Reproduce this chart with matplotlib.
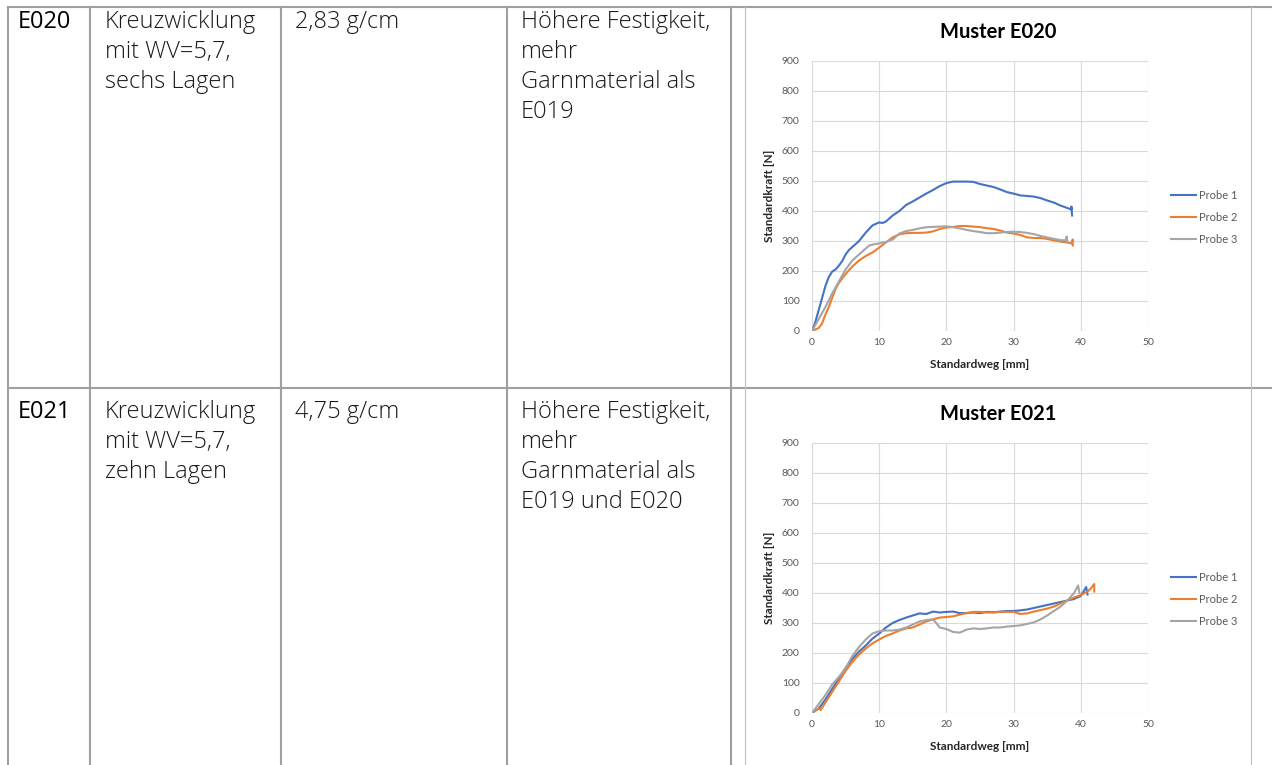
import matplotlib
matplotlib.use("Agg")
import matplotlib.pyplot as plt
from matplotlib.lines import Line2D

W, H = 1272, 765

# ---------------- table content ----------------
row_ids = ["E020", "E021"]
row_desc = [["Kreuzwicklung", "mit WV=5,7,", "sechs Lagen"],
            ["Kreuzwicklung", "mit WV=5,7,", "zehn Lagen"]]
row_weight = ["2,83 g/cm", "4,75 g/cm"]
row_note = [["Höhere Festigkeit,", "mehr", "Garnmaterial als", "E019"],
            ["Höhere Festigkeit,", "mehr", "Garnmaterial als", "E019 und E020"]]
chart_titles = ["Muster E020", "Muster E021"]
series_names = ["Probe 1", "Probe 2", "Probe 3"]

# ---------------- chart data: E020 ----------------
e020_p1_x = [0, 0.5, 1, 1.5, 2, 2.5, 3, 3.5, 4, 4.5, 5, 5.5, 6, 7, 8, 9, 10, 10.5, 11, 12, 13, 14, 15, 16,
             17, 18, 19, 20, 21, 22, 23, 24, 25, 26, 27, 28, 29, 30, 31, 32, 33, 34, 35, 36, 37, 38, 38.6, 38.6, 38.7]
e020_p1_y = [0, 30, 70, 110, 150, 180, 198, 205, 218, 233, 255, 270, 280, 300, 328, 352, 362, 360, 365, 385, 400,
             420, 432, 445, 458, 470, 483, 493, 498, 498, 498, 497, 490, 485, 480, 472, 463, 458, 452, 450, 448,
             443, 435, 428, 418, 410, 405, 415, 385]
e020_p2_x = [0, 0.5, 1, 1.5, 2, 2.5, 3, 3.5, 4, 5, 6, 7, 8, 9, 10, 11, 12, 13, 14, 15, 16, 17, 18, 19, 20, 21,
             22, 23, 24, 25, 26, 27, 28, 29, 30, 31, 32, 33, 34, 35, 36, 37, 38, 38.6, 38.8, 38.8]
e020_p2_y = [0, 5, 10, 25, 55, 80, 110, 140, 160, 190, 215, 235, 250, 262, 278, 295, 312, 322, 326, 327, 327,
             328, 332, 340, 345, 347, 350, 350, 348, 346, 343, 340, 335, 328, 325, 320, 312, 310, 310, 307, 302,
             298, 295, 292, 305, 285]
e020_p3_x = [0, 1, 2, 3, 4, 5, 6, 7, 8, 8.5, 9, 10, 11, 12, 13, 14, 15, 16, 17, 18, 19, 20, 21, 22, 23, 24, 25,
             26, 27, 28, 29, 30, 31, 32, 33, 34, 35, 36, 37, 37.8, 37.9, 38]
e020_p3_y = [0, 40, 80, 125, 165, 205, 235, 255, 275, 285, 288, 292, 297, 305, 325, 333, 337, 342, 346, 347, 348,
             349, 346, 342, 337, 333, 330, 326, 326, 328, 330, 331, 330, 327, 323, 317, 312, 307, 303, 302, 315, 295]

# ---------------- chart data: E021 ----------------
e021_p1_x = [0, 1, 2, 3, 4, 5, 6, 7, 8, 9, 10, 11, 12, 13, 14, 15, 16, 17, 18, 19, 20, 21, 22, 23, 24, 25, 26,
             27, 28, 29, 30, 31, 32, 33, 34, 35, 36, 37, 38, 39, 40, 40.8, 41]
e021_p1_y = [0, 15, 45, 80, 115, 150, 180, 205, 225, 248, 265, 285, 300, 310, 318, 325, 332, 330, 338, 335, 337,
             338, 333, 333, 335, 333, 337, 336, 338, 340, 340, 342, 345, 350, 355, 360, 365, 370, 375, 380, 390,
             420, 395]
e021_p2_x = [0, 0.5, 1, 1.3, 2, 3, 4, 5, 6, 7, 8, 9, 10, 11, 12, 13, 14, 15, 16, 17, 18, 19, 20, 21, 22, 23, 24,
             25, 26, 27, 28, 29, 30, 31, 32, 33, 34, 35, 36, 37, 38, 39, 40, 41, 41.5, 42, 42]
e021_p2_y = [0, 8, 15, 10, 35, 70, 105, 140, 170, 195, 215, 232, 245, 257, 265, 275, 282, 285, 295, 305, 312,
             318, 320, 322, 328, 333, 337, 337, 335, 335, 337, 337, 337, 330, 332, 338, 343, 348, 355, 365, 375,
             385, 393, 405, 415, 430, 405]
e021_p3_x = [0, 1, 2, 3, 4, 5, 6, 7, 8, 9, 10, 11, 12, 13, 14, 15, 16, 17, 18, 18.5, 19, 20, 21, 22, 23, 24, 25,
             26, 27, 28, 29, 30, 31, 32, 33, 34, 35, 36, 37, 38, 39, 39.6, 39.8]
e021_p3_y = [0, 30, 60, 95, 120, 150, 190, 220, 245, 265, 273, 275, 275, 278, 285, 295, 305, 310, 312, 300, 285,
             280, 270, 268, 278, 282, 280, 282, 285, 285, 288, 290, 292, 297, 302, 312, 325, 340, 355, 375, 400,
             425, 400]

charts = [
    [(e020_p1_x, e020_p1_y), (e020_p2_x, e020_p2_y), (e020_p3_x, e020_p3_y)],
    [(e021_p1_x, e021_p1_y), (e021_p2_x, e021_p2_y), (e021_p3_x, e021_p3_y)],
]
colors = ["#4472C4", "#ED7D31", "#A5A5A5"]

fig = plt.figure(figsize=(W / 100, H / 100), dpi=100)


def fx(x):
    return x / W


def fy(y):
    return 1 - y / H


# ---------------- table grid ----------------
tcol = "#A0A0A0"
for x in [8, 90, 281, 507, 731]:
    fig.add_artist(Line2D([fx(x), fx(x)], [fy(7), fy(H)], color=tcol, lw=1.5))
for y in [7, 388]:
    fig.add_artist(Line2D([fx(8), fx(W)], [fy(y), fy(y)], color=tcol, lw=1.5))
# chart frames
for x in [745, 1251]:
    fig.add_artist(Line2D([fx(x), fx(x)], [fy(7), fy(H)], color="#C0C0C0", lw=0.8))

# ---------------- table text ----------------
row_tops = [22, 412]
lh = 30
txt_col = "#1A1A1A"
for r in range(2):
    y0 = row_tops[r]
    fig.text(fx(18), fy(y0), row_ids[r], fontsize=17, family="Open Sans", weight="normal",
             va="center", ha="left", color="black")
    for i, t in enumerate(row_desc[r]):
        fig.text(fx(105), fy(y0 + i * lh), t, fontsize=17, family="Open Sans", weight="light",
                 va="center", ha="left", color=txt_col)
    fig.text(fx(295), fy(y0), row_weight[r], fontsize=17, family="Open Sans", weight="light",
             va="center", ha="left", color=txt_col)
    for i, t in enumerate(row_note[r]):
        fig.text(fx(521), fy(y0 + i * lh), t, fontsize=17, family="Open Sans", weight="light",
                 va="center", ha="left", color=txt_col)

# ---------------- charts ----------------
plot_tops = [61, 443]
title_y = [32, 414]
for c in range(2):
    top = plot_tops[c]
    ax = fig.add_axes([fx(812), fy(top + 270), (1148 - 812) / W, 270 / H])
    for (xs, ys), col, name in zip(charts[c], colors, series_names):
        ax.plot(xs, ys, color=col, lw=1.5, label=name)
    ax.set_xlim(0, 50)
    ax.set_ylim(0, 900)
    ax.set_xticks(range(0, 51, 10))
    ax.set_yticks(range(0, 901, 100))
    ax.grid(True, color="#D9D9D9", lw=0.8)
    ax.set_axisbelow(True)
    for s in ax.spines.values():
        s.set_visible(False)
    ax.tick_params(length=0, labelsize=7.5, colors="#595959")
    ax.tick_params(axis="x", pad=5)
    ax.tick_params(axis="y", pad=9)
    ax.set_xlabel("Standardweg [mm]", fontsize=8.5, fontweight="bold", color="#262626", labelpad=9,
                  family="Lato")
    ax.set_ylabel("Standardkraft [N]", fontsize=8.5, fontweight="bold", color="#262626", labelpad=5,
                  family="Lato")
    for lab in ax.get_xticklabels() + ax.get_yticklabels():
        lab.set_family("Lato")
    fig.text(fx(998), fy(title_y[c]), chart_titles[c], fontsize=14.5, fontweight="bold", family="Lato",
             ha="center", va="center", color="black")
    ax.legend(loc="center left", bbox_to_anchor=(1.04, 0.42), frameon=False,
              handlelength=2.2, handletextpad=0.3, labelspacing=1.0,
              prop={"family": "Lato", "size": 8}, labelcolor="#595959")

fig.savefig("out.png", dpi=100)
